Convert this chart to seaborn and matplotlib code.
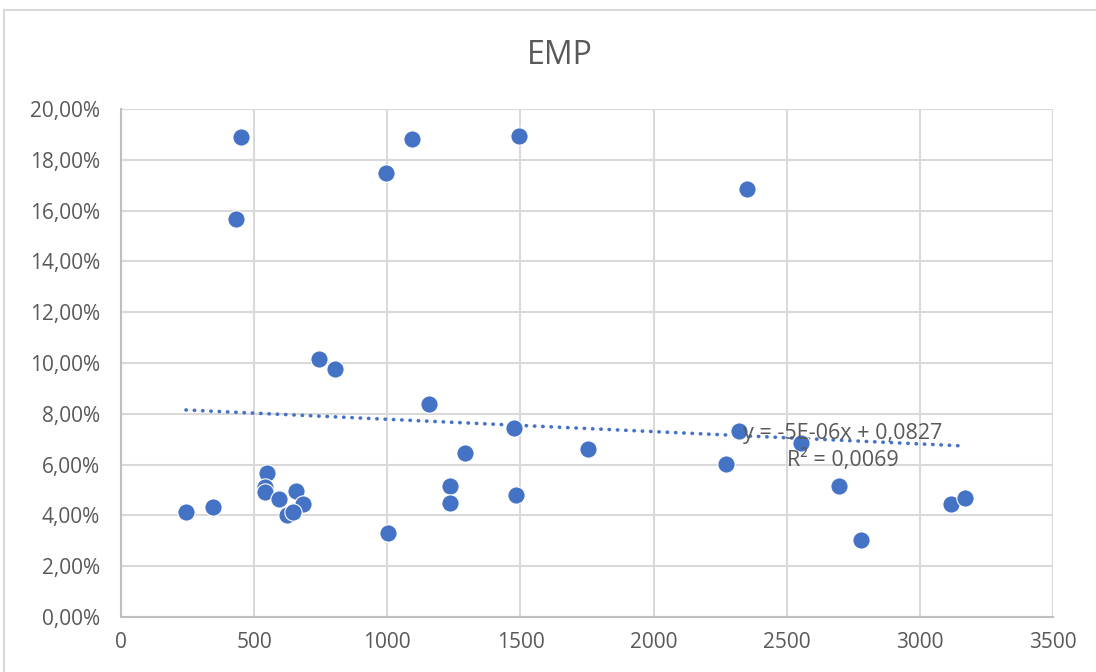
import numpy as np
import pandas as pd
import matplotlib
matplotlib.use("Agg")
import matplotlib.pyplot as plt
from matplotlib.ticker import FuncFormatter, MultipleLocator
from matplotlib.patches import Rectangle
import seaborn as sns

# values
x_vals = [244, 344, 432, 452, 996, 1092, 1495, 2349, 744, 803, 1157,
          1475, 1292, 1754, 2321, 2271, 2555, 2695, 2777, 3118, 3171,
          1003, 1235, 1235, 1485, 547, 542, 542, 593, 657, 682, 622, 647]
y_pct = [4.15, 4.34, 15.66, 18.91, 17.48, 18.83, 18.95, 16.86, 10.17, 9.75, 8.39,
         7.44, 6.47, 6.61, 7.32, 6.02, 6.86, 5.16, 3.03, 4.45, 4.70,
         3.30, 5.16, 4.50, 4.80, 5.68, 5.13, 4.93, 4.66, 4.97, 4.45, 4.00, 4.15]
# linear trendline as shown on the chart
trend_slope = -4.85e-6
trend_intercept = 0.0827
trend_label = "y = -5E-06x + 0,0827\nR² = 0,0069"
title = "EMP"

df = pd.DataFrame({"x": x_vals, "y": np.array(y_pct) / 100})
trend_x = [min(x_vals), max(x_vals)]
trend = pd.DataFrame({"x": trend_x,
                      "y": [trend_intercept + trend_slope * v for v in trend_x]})

blue = "#4472C4"
grey_text = "#595959"
grid = "#D9D9D9"

sns.set_theme(style="white")
plt.rcParams["font.family"] = ["Open Sans", "DejaVu Sans"]

fig = plt.figure(figsize=(10.96, 6.72), dpi=100)
ax = fig.add_axes([0.1104, 0.0818, 0.8504, 0.756])

# outer chart frame
fig.patches.append(Rectangle((4 / 1096, -0.05), 1.1, 1 - 10 / 672 + 0.05,
                             transform=fig.transFigure, fill=False,
                             edgecolor=grid, linewidth=1.5))

sns.lineplot(data=trend, x="x", y="y", ax=ax, color=blue, linewidth=2.6,
             linestyle=(0, (0.1, 2.2)), dash_capstyle="round", zorder=2)
sns.scatterplot(data=df, x="x", y="y", ax=ax, s=155, color=blue,
                edgecolor="white", linewidth=0.8, zorder=3)

ax.set_xlim(0, 3500)
ax.set_ylim(0, 0.20)
ax.xaxis.set_major_locator(MultipleLocator(500))
ax.yaxis.set_major_locator(MultipleLocator(0.02))
ax.yaxis.set_major_formatter(FuncFormatter(lambda v, p: f"{v * 100:.2f}%".replace(".", ",")))
ax.grid(True, color=grid, linewidth=1.5)
ax.set_axisbelow(True)
for side in ["top", "right"]:
    ax.spines[side].set_visible(False)
for side in ["left", "bottom"]:
    ax.spines[side].set_color("#BFBFBF")
    ax.spines[side].set_linewidth(1.5)
ax.tick_params(axis="x", length=0, pad=11, labelsize=15, labelcolor=grey_text)
ax.tick_params(axis="y", length=0, pad=15, labelsize=15, labelcolor=grey_text)
ax.set_xlabel("")
ax.set_ylabel("")

ax.text(0.774, 0.335, trend_label, transform=ax.transAxes, ha="center", va="center",
        fontsize=15.5, color=grey_text, linespacing=1.3, zorder=4)

fig.text(0.511, 1 - 55 / 672, title, ha="center", va="center", fontsize=23,
         color=grey_text)

fig.savefig("out.png", dpi=100)
